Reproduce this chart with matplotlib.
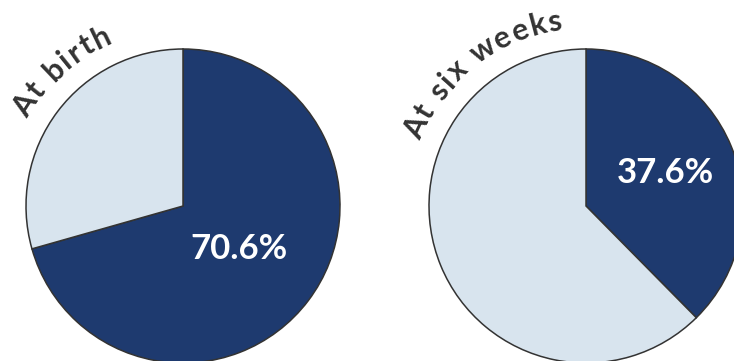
import matplotlib

matplotlib.use("Agg")
import numpy as np
import matplotlib.pyplot as plt
from matplotlib.font_manager import FontProperties

TITLES = ["At birth", "At six weeks"]
DARK_SHARE = [70.6, 37.6]
DARK, LIGHT, EDGE, INK = "#1e3a6f", "#d8e4ee", "#333333", "#333333"

W, H = 734, 361
CENTERS = [(183, 155), (586, 155)]
R = 157
TITLE_MID = [132.0, 128.0]   # degrees, where the curved title is centred
PCT_DIST = [0.45, 0.55]


def curved_text(ax, renderer, text, cx, cy, radius, mid_deg, prop, track=2.5):
    # place characters one by one along an arc, clockwise
    def width(t):
        return renderer.get_text_width_height_descent(t, prop, ismath=False)[0] + track * len(t)

    total = width(text)
    for i, ch in enumerate(text):
        s = (width(text[:i]) + width(text[:i + 1])) / 2 - total / 2
        ang = np.radians(mid_deg) - s / radius
        ax.text(cx + radius * np.cos(ang), cy + radius * np.sin(ang), ch,
                rotation=np.degrees(ang) - 90, rotation_mode="anchor",
                ha="center", va="center", fontproperties=prop, color=INK)


def main() -> None:
    fig = plt.figure(figsize=(W / 100, H / 100), dpi=100)
    ax = fig.add_axes([0, 0, 1, 1])
    renderer = fig.canvas.get_renderer()
    title_fp = FontProperties(family="Lato", weight="bold", size=22)
    pct_fp = FontProperties(family="Lato", weight="bold", size=25)

    for k, share in enumerate(DARK_SHARE):
        cx, cy = CENTERS[k]
        wedges, _ = ax.pie([share, 100 - share], colors=[DARK, LIGHT],
                           startangle=90, counterclock=False, center=(cx, cy),
                           radius=R, wedgeprops=dict(edgecolor=EDGE, linewidth=1.1))
        w = wedges[0]
        mid = np.radians((w.theta1 + w.theta2) / 2)
        d = PCT_DIST[k] * R
        ax.text(cx + d * np.cos(mid), cy + d * np.sin(mid), f"{share}%",
                ha="center", va="center", color="white", fontproperties=pct_fp)
        curved_text(ax, renderer, TITLES[k], cx, cy, R + 30, TITLE_MID[k], title_fp)

    ax.set_xlim(0, W)
    ax.set_ylim(0, H)
    ax.set_aspect("equal")
    ax.set_axis_off()
    fig.savefig("out.png", dpi=100)
    plt.close(fig)


if __name__ == "__main__":
    main()
